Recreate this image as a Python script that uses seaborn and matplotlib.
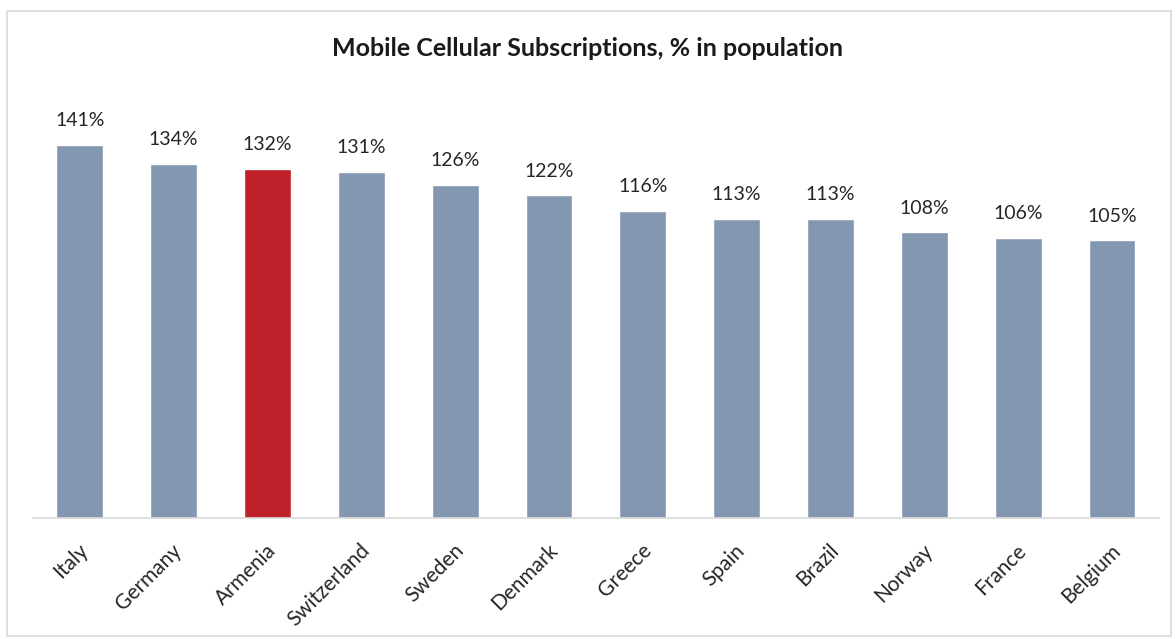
import matplotlib
matplotlib.use('Agg')
import matplotlib.pyplot as plt
import matplotlib.transforms as mtransforms
import seaborn as sns
import pandas as pd
from matplotlib.patches import Rectangle

countries = ['Italy', 'Germany', 'Armenia', 'Switzerland', 'Sweden', 'Denmark',
             'Greece', 'Spain', 'Brazil', 'Norway', 'France', 'Belgium']
values = [141, 134, 132, 131, 126, 122, 116, 113, 113, 108, 106, 105]
highlight = 'Armenia'

sns.set_style('white')
plt.rcParams['font.family'] = ['Lato', 'DejaVu Sans']

df = pd.DataFrame({'country': countries, 'value': values})
palette = {c: ('#C0202A' if c == highlight else '#8497B0') for c in countries}

fig = plt.figure(figsize=(11.76, 6.39), dpi=100)
ax = fig.add_axes([0.028, 0.1894, 0.9575, 0.662])
sns.barplot(data=df, x='country', y='value', hue='country', palette=palette,
            width=0.5, legend=False, ax=ax, saturation=1)

ax.set_ylim(0, 160)
ax.set_xlim(-0.5, len(countries) - 0.5)
for i, v in enumerate(values):
    ax.text(i, v + 6, f'{v}%', ha='center', va='bottom', fontsize=14, color='#262626')

ax.set_yticks([])
ax.set_xlabel('')
ax.set_ylabel('')
for s in ['top', 'right', 'left']:
    ax.spines[s].set_visible(False)
ax.spines['bottom'].set_color('#D9D9D9')
ax.spines['bottom'].set_linewidth(1.2)
ax.tick_params(axis='x', length=0, pad=16)
shift = mtransforms.ScaledTranslation(-2 / 100, 0, fig.dpi_scale_trans)
for lbl in ax.get_xticklabels():
    lbl.set_rotation(45)
    lbl.set_ha('right')
    lbl.set_rotation_mode('anchor')
    lbl.set_fontsize(15)
    lbl.set_color('#262626')
    lbl.set_transform(lbl.get_transform() + shift)

fig.text(0.5, 0.924, 'Mobile Cellular Subscriptions, % in population', ha='center',
         va='center', fontsize=18, fontweight='bold', color='#1a1a1a')

fig.patches.append(Rectangle((0.006, 0.005), 0.99, 0.978, transform=fig.transFigure,
                             fill=False, edgecolor='#D9D9D9', linewidth=1.2))

fig.savefig('out.png', dpi=100)
